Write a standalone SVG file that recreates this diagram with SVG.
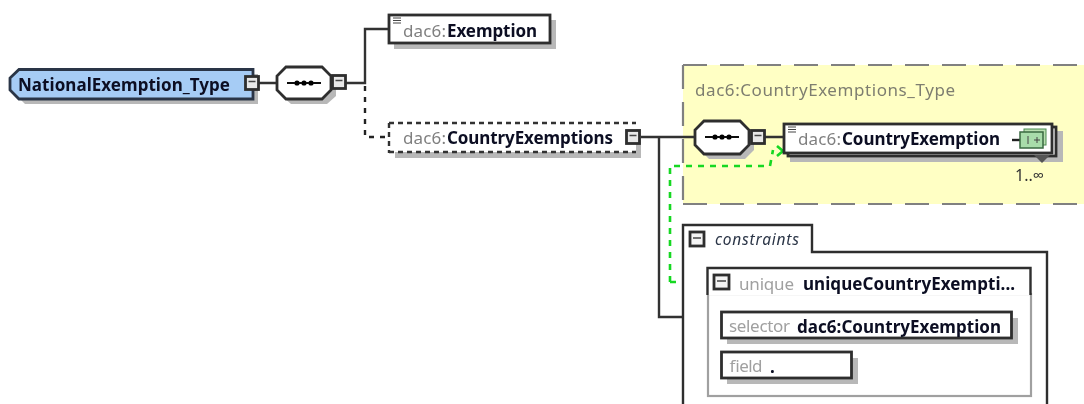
<svg xmlns="http://www.w3.org/2000/svg" width="1084" height="404" viewBox="0 0 1084 404">
<style>
text{font-family:"Noto Sans","Open Sans","DejaVu Sans",sans-serif;font-size:17px}
.b{font-weight:700;fill:#0a1024}
.g{fill:#808080}
.box{fill:#fff;stroke:#2e2e2e;stroke-width:2.800}
.sh{fill:#b8b8b8;stroke:none}
.ln{fill:none;stroke:#333;stroke-width:2.400}
.ds{fill:none;stroke:#222;stroke-width:2.400;stroke-dasharray:5 6}
.exp{fill:#e8e8e8;stroke:#2e2e2e;stroke-width:2.800}
.m{stroke:#444;stroke-width:1.500;fill:none}
.gr{fill:none;stroke:#12d820;stroke-width:2.600;stroke-dasharray:6 6}
</style>
<defs>
<filter id="s" x="-5%" y="-5%" width="110%" height="110%"><feGaussianBlur stdDeviation="0.6"/></filter>
<g id="ex"><rect class="exp" x="-6.500" y="-6.500" width="13" height="13"/><path class="m" d="M-3.500 -1.500H3.500"/></g>
<g id="dots"><path d="M-17 0H17" stroke="#111" stroke-width="1.800"/><circle cx="-7" r="2.600" fill="#000"/><circle r="2.600" fill="#000"/><circle cx="7" r="2.600" fill="#000"/></g>
<g id="lines"><path d="M0 0h8M0 2.500h8M0 5h8" stroke="#444" stroke-width="1.200"/></g>
</defs>
<g filter="url(#s)">
<rect x="-10" y="-10" width="1104" height="424" fill="#fff"/>
<g id="type-box">
<path d="M683 65H1094V204H683Z" fill="#ffffc4"/>
<path d="M683 65H1094M683 204H1094M683 65V204" fill="none" stroke="#808080" stroke-width="2.200" stroke-dasharray="24 13"/>
<text x="695" y="96" textLength="260" fill="#7e7e70">dac6:CountryExemptions_Type</text>
</g>
<g id="connectors">
<path class="ln" d="M259 83H277M346 83H365V29H389"/>
<path class="ds" d="M365 86V137H389"/>
<path class="ln" d="M640 137H695M659 137V317H683M765 137H784"/>
<path class="gr" d="M670 282V166H770L773 150"/>
<path class="gr" style="stroke-dasharray:none" d="M777 146L783 151L777 156"/>
<path class="gr" d="M670 282H707"/>
</g>
<g id="national-exemption-type">
<path class="sh" d="M15 74H258V104H25L15 94Z"/>
<path d="M19 69.500H253V99H19L10 90V78Z" fill="#a6ccf5" stroke="#2a3646" stroke-width="2.800"/>
<text class="b" x="18" y="91" textLength="212">NationalExemption_Type</text>
<use href="#ex" x="252" y="83"/>
</g>
<g id="seq-1">
<path class="sh" d="M291 72H327L336 81V96L327 104H291L282 96V81Z"/>
<path d="M286 67H322L331 76V90L322 99H286L277 90V76Z" fill="#fff" stroke="#2e2e2e" stroke-width="2.800"/>
<use href="#dots" x="304" y="83"/>
<use href="#ex" x="339" y="82"/>
</g>
<g id="exemption">
<rect class="sh" x="394" y="20" width="162" height="29"/>
<rect class="box" x="389" y="15" width="161" height="28"/>
<use href="#lines" x="393" y="18"/>
<text x="403" y="37" class="g" textLength="43">dac6:</text>
<text x="447" y="37" class="b" textLength="90">Exemption</text>
</g>
<g id="country-exemptions">
<rect class="sh" x="395" y="129" width="246" height="29"/>
<rect x="390" y="124" width="246" height="28" fill="#fff"/>
<path d="M389 123H636M389 123V153M389 152H636" fill="none" stroke="#333" stroke-width="2.400" stroke-dasharray="5 4"/>
<text x="403" y="144" class="g" textLength="43">dac6:</text>
<text x="447" y="144" class="b" textLength="166">CountryExemptions</text>
<use href="#ex" x="633" y="137"/>
</g>
<g id="seq-2">
<path class="sh" d="M709 126H745L754 135V150L745 159H709L700 150V135Z"/>
<path d="M704 121H740L749 130V145L740 154H704L695 145V130Z" fill="#fff" stroke="#2e2e2e" stroke-width="2.800"/>
<use href="#dots" x="722" y="137"/>
<use href="#ex" x="758" y="137"/>
</g>
<g id="country-exemption">
<rect class="sh" x="790" y="131" width="273" height="31"/>
<rect class="box" x="788" y="127" width="268" height="29"/>
<rect class="box" x="784" y="124" width="268" height="29"/>
<path d="M1034 155L1042 163L1050 155Z" fill="#555"/>
<use href="#lines" x="788" y="127"/>
<text x="798" y="145" class="g" textLength="43">dac6:</text>
<text x="842" y="145" class="b" textLength="158">CountryExemption</text>
<path d="M1012 140H1020" stroke="#222" stroke-width="2.400"/>
<rect x="1024" y="129" width="22" height="16" fill="#b8dfb0" stroke="#4a8a50"/>
<rect x="1020" y="132" width="23" height="16" fill="#a8dcaa" stroke="#3a6a40" stroke-width="1.500"/>
<path d="M1028 136V144M1034 140H1040M1037 137V143" stroke="#444" fill="none"/>
<text x="1015" y="181" style="font-size:16px" fill="#333" textLength="29">1..∞</text>
</g>
<g id="constraints">
<path d="M683 414V225H812V252H1047V414" fill="#fff" stroke="#2e2e2e" stroke-width="2.400"/>
<rect class="exp" x="690" y="232" width="14" height="14" style="fill:#f4f4f4"/><path class="m" d="M693 238H701"/>
<text x="715" y="245" font-style="italic" fill="#2a3446" textLength="84" style="font-size:15.500px">constraints</text>
</g>
<g id="unique">
<rect x="708" y="294" width="323" height="102" fill="#fff" stroke="#a0a0a0" stroke-width="2.200"/>
<path d="M707.500 295V268H1030.500V295" fill="#fff" stroke="#2e2e2e" stroke-width="2.400"/>
<rect class="exp" x="714" y="275" width="15" height="14" style="fill:#f4f4f4"/><path class="m" d="M717 281H726"/>
<text x="739" y="290" class="g" textLength="55" style="fill:#a0a0a0">unique</text>
<text x="803" y="290" class="b" textLength="212">uniqueCountryExempti...</text>
</g>
<g id="selector">
<rect class="sh" x="727" y="318" width="291" height="26"/>
<rect class="box" x="721.500" y="312" width="290" height="26"/>
<text x="729" y="332" class="g" textLength="61" style="fill:#a0a0a0">selector</text>
<text x="797" y="333" class="b" textLength="204">dac6:CountryExemption</text>
</g>
<g id="field">
<rect class="sh" x="727" y="358" width="131" height="26"/>
<rect class="box" x="721.500" y="352" width="130" height="26"/>
<text x="729" y="372" class="g" textLength="33" style="fill:#a0a0a0">field</text>
<text x="770" y="373" class="b">.</text>
</g>
</g>
</svg>
